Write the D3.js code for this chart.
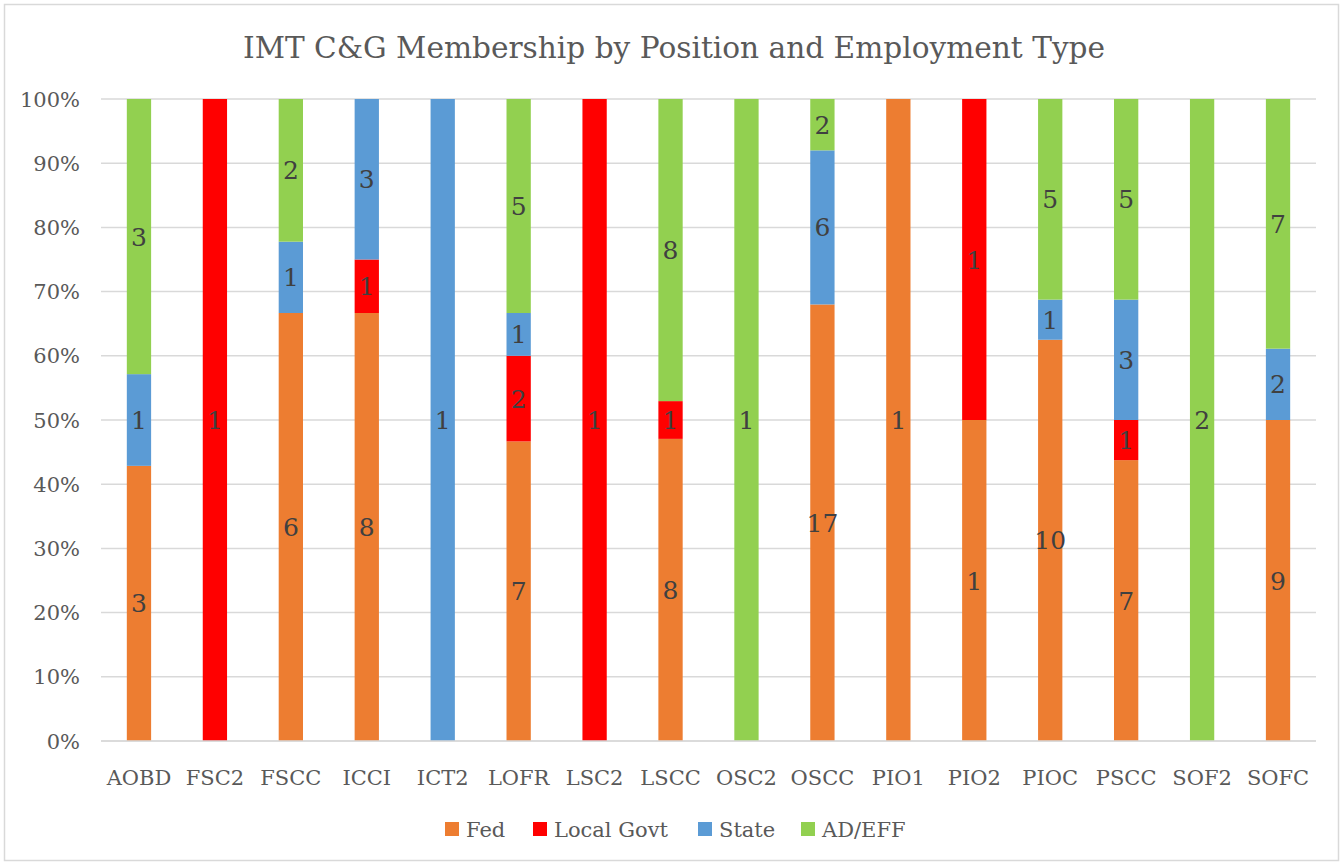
<!DOCTYPE html>
<html lang="en">
<head>
<meta charset="UTF-8" />
<title>IMT C&amp;G Membership by Position and Employment Type</title>
<style>
  body { margin: 0; background: #fff; }
  svg { display: block; font-family: "DejaVu Serif", serif; }
</style>
</head>
<body>
<div id="chart"></div>
<script src="https://d3js.org/d3.v7.min.js"></script>
<script>
  const categories = ["AOBD", "FSC2", "FSCC", "ICCI", "ICT2", "LOFR", "LSC2", "LSCC",
                      "OSC2", "OSCC", "PIO1", "PIO2", "PIOC", "PSCC", "SOF2", "SOFC"];
  const seriesNames = ["Fed", "Local Govt", "State", "AD/EFF"];
  const fed      = [3, 0, 6, 8, 0, 7, 0, 8, 0, 17, 1, 1, 10, 7, 0, 9];
  const localGov = [0, 1, 0, 1, 0, 2, 1, 1, 0, 0, 0, 1, 0, 1, 0, 0];
  const state    = [1, 0, 1, 3, 1, 1, 0, 0, 0, 6, 0, 0, 1, 3, 0, 2];
  const adEff    = [3, 0, 2, 0, 0, 5, 0, 8, 1, 2, 0, 0, 5, 5, 2, 7];
  const yTicks = d3.range(0, 1.0001, 0.1);
  const colors = ["#ED7D31", "#FF0000", "#5B9BD5", "#92D050"];

  const width = 1343, height = 865;
  const margin = { top: 99, right: 27, bottom: 124, left: 101 };

  const rows = categories.map((c, i) => {
    const vals = [fed[i], localGov[i], state[i], adEff[i]];
    const r = { cat: c };
    seriesNames.forEach((s, j) => r[s] = vals[j]);
    return r;
  });

  const stacked = d3.stack().keys(seriesNames)
    .offset(d3.stackOffsetExpand)(rows);

  const svg = d3.select("#chart").append("svg")
    .attr("width", width).attr("height", height);

  // outer border
  svg.append("rect")
    .attr("x", 4.5).attr("y", 4.5)
    .attr("width", width - 9).attr("height", height - 9)
    .attr("fill", "#fff").attr("stroke", "#d9d9d9").attr("stroke-width", 1.5);

  const x = d3.scaleBand().domain(categories)
    .range([margin.left, width - margin.right]).paddingInner(0.68).paddingOuter(0.34);
  const y = d3.scaleLinear().domain([0, 1])
    .range([height - margin.bottom, margin.top]);

  // gridlines
  svg.append("g").selectAll("line").data(yTicks).join("line")
    .attr("x1", margin.left).attr("x2", width - margin.right)
    .attr("y1", d => y(d)).attr("y2", d => y(d))
    .attr("stroke", "#d9d9d9").attr("stroke-width", 1.5);

  // y tick labels
  svg.append("g").selectAll("text").data(yTicks).join("text")
    .attr("x", 80).attr("y", d => y(d)).attr("dy", "0.36em")
    .attr("text-anchor", "end").attr("fill", "#595959")
    .attr("font-size", 21)
    .text(d => d3.format(".0%")(d));

  // bars
  const layer = svg.append("g").selectAll("g").data(stacked).join("g")
    .attr("fill", (d, i) => colors[i]);
  layer.selectAll("rect").data(d => d.map(p => ({ p: p, key: d.key }))).join("rect")
    .attr("x", d => x(d.p.data.cat))
    .attr("width", x.bandwidth())
    .attr("y", d => y(d.p[1]))
    .attr("height", d => y(d.p[0]) - y(d.p[1]));

  // data labels
  layer.selectAll("text").data(d => d.map(p => ({ p: p, key: d.key })).filter(d => d.p.data[d.key] > 0))
    .join("text")
    .attr("x", d => x(d.p.data.cat) + x.bandwidth() / 2)
    .attr("y", d => (y(d.p[0]) + y(d.p[1])) / 2)
    .attr("dy", "0.36em")
    .attr("text-anchor", "middle")
    .attr("fill", "#404040")
    .attr("font-size", 25)
    .text(d => d.p.data[d.key]);

  // x axis line
  svg.append("line")
    .attr("x1", margin.left).attr("x2", width - margin.right)
    .attr("y1", y(0)).attr("y2", y(0))
    .attr("stroke", "#d9d9d9").attr("stroke-width", 1.5);

  // category labels
  svg.append("g").selectAll("text").data(categories).join("text")
    .attr("x", d => x(d) + x.bandwidth() / 2)
    .attr("y", 785)
    .attr("text-anchor", "middle").attr("fill", "#595959")
    .attr("font-size", 21)
    .text(d => d);

  // title
  svg.append("text")
    .attr("x", 674).attr("y", 58)
    .attr("text-anchor", "middle").attr("fill", "#595959")
    .attr("font-size", 29.6)
    .text("IMT C&G Membership by Position and Employment Type");

  // legend
  const legendX = [445, 533, 698, 801];
  const legend = svg.append("g").selectAll("g").data(seriesNames).join("g")
    .attr("transform", (d, i) => `translate(${legendX[i]},822)`);
  legend.append("rect").attr("width", 14).attr("height", 14)
    .attr("fill", (d, i) => colors[i]);
  legend.append("text").attr("x", 21).attr("y", 7).attr("dy", "0.36em")
    .attr("fill", "#595959").attr("font-size", 21)
    .text(d => d);
</script>
</body>
</html>
